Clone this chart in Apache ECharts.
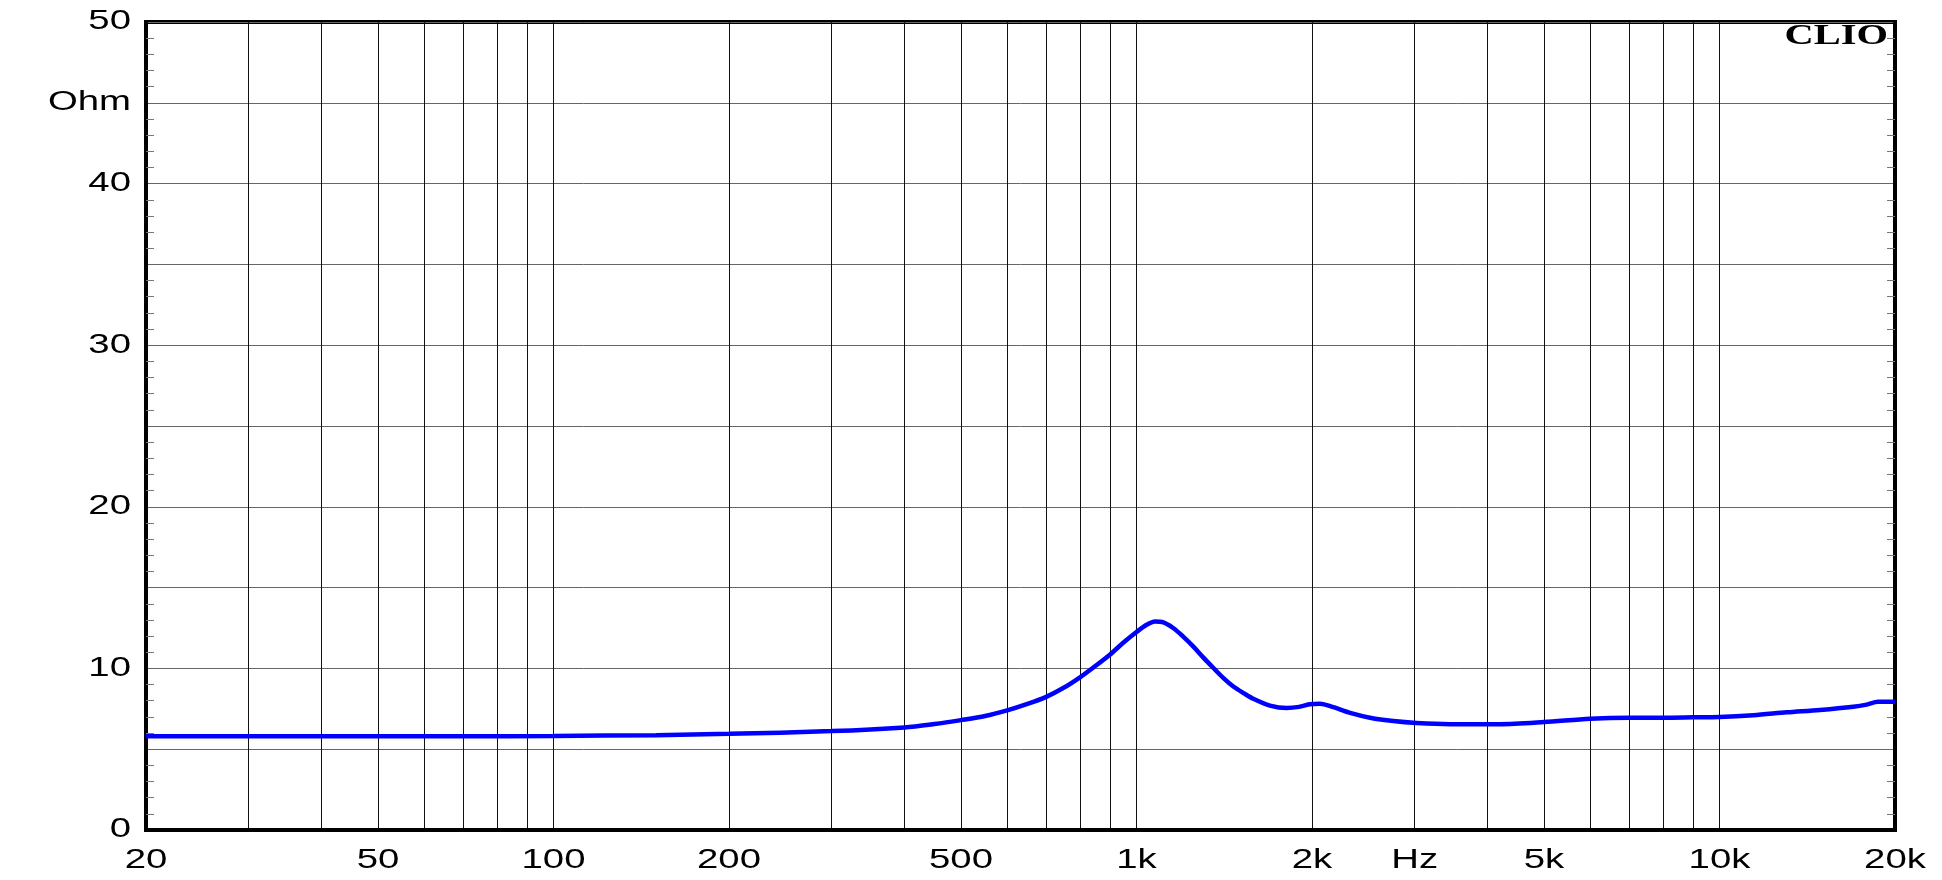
<!DOCTYPE html>
<html>
<head>
<meta charset="utf-8">
<script src="https://cdn.jsdelivr.net/npm/echarts@6/dist/echarts.min.js"></script>
<style>
html,body{margin:0;padding:0;background:#fff;}
#chart{width:1942px;height:880px;}
</style>
</head>
<body>
<div id="chart"></div>
<script>
// Frequency (Hz) and impedance (Ohm)
const freqHz = [20, 30, 50, 70, 100, 150, 200, 300, 400, 450, 500, 550, 600, 650, 700, 750, 800, 850, 900, 950, 1000, 1041, 1076, 1112, 1156, 1200, 1252, 1300, 1354, 1410, 1466, 1530, 1586, 1694, 1810, 1900, 1980, 2064, 2177, 2325, 2515, 2758, 3024, 3449, 4200, 5000, 6000, 7000, 8000, 9000, 10000, 11430, 13040, 14870, 16960, 17880, 18700, 19700, 20000];
const impedanceOhm = [5.8, 5.8, 5.8, 5.8, 5.82, 5.87, 5.95, 6.12, 6.35, 6.56, 6.8, 7.05, 7.4, 7.8, 8.24, 8.8, 9.45, 10.15, 10.85, 11.6, 12.25, 12.7, 12.9, 12.85, 12.5, 12.0, 11.35, 10.7, 10.04, 9.4, 8.88, 8.45, 8.12, 7.7, 7.55, 7.62, 7.78, 7.82, 7.6, 7.25, 6.95, 6.74, 6.62, 6.55, 6.55, 6.68, 6.89, 6.95, 6.95, 6.97, 6.99, 7.1, 7.28, 7.43, 7.63, 7.76, 7.93, 7.93, 7.93];
// Axis ticks / labels
const xGridValues = [20, 30, 40, 50, 60, 70, 80, 90, 100, 200, 300, 400, 500, 600, 700, 800, 900, 1000, 2000, 3000, 4000, 5000, 6000, 7000, 8000, 9000, 10000, 20000];
const xLabelValues = [20, 50, 100, 200, 500, 1000, 2000, 3000, 5000, 10000, 20000];
const xLabelTexts = ['20', '50', '100', '200', '500', '1k', '2k', 'Hz', '5k', '10k', '20k'];
const yLabelValues = [0, 10, 20, 30, 40, 45, 50];
const yLabelTexts = ['0', '10', '20', '30', '40', 'Ohm', '50'];

const chart = echarts.init(document.getElementById('chart'), null, {renderer: 'canvas'});
const LABEL_FONT = '27px "Liberation Sans", Arial, sans-serif';
const STRETCH = 1.42;

const option = {
  animation: false,
  backgroundColor: '#fff',
  grid: {left: 146, right: 47, top: 22, bottom: 50, show: true, borderColor: '#000', borderWidth: 4, backgroundColor: 'transparent', containLabel: false},
  xAxis: {
    type: 'log', logBase: 10, min: 20, max: 20000,
    axisLine: {show: true, lineStyle: {color: '#000', width: 4}},
    axisTick: {show: false, customValues: xGridValues},
    splitLine: {show: true, lineStyle: {color: '#111', width: 1}},
    axisLabel: {show: false}
  },
  yAxis: [{
    type: 'value', min: 0, max: 50, interval: 5, position: 'left',
    axisLine: {show: true, lineStyle: {color: '#000', width: 4}},
    axisTick: {show: false, inside: true, length: 8},
    minorTick: {show: true, splitNumber: 5, length: 8, lineStyle: {color: '#777', width: 1}},
    splitLine: {show: true, lineStyle: {color: '#666', width: 1}},
    axisLabel: {show: false}
  }, {
    type: 'value', min: 0, max: 50, interval: 5, position: 'right',
    axisLine: {show: true, lineStyle: {color: '#000', width: 4}},
    axisTick: {show: false, inside: true, length: 8},
    minorTick: {show: true, splitNumber: 5, length: 8, lineStyle: {color: '#777', width: 1}},
    splitLine: {show: false},
    axisLabel: {show: false}
  }],
  series: [{
    type: 'line', xAxisIndex: 0, yAxisIndex: 0,
    data: freqHz.map(function (f, i) { return [f, impedanceOhm[i]]; }),
    showSymbol: false, smooth: 0.3,
    lineStyle: {color: '#0000ff', width: 4.5},
    itemStyle: {color: '#0000ff'}
  }]
};
chart.setOption(option);

// Stretched axis labels (the reference uses horizontally widened glyphs), placed via the chart's own scales
const graphics = [];
xLabelValues.forEach(function (v, i) {
  const p = chart.convertToPixel({xAxisIndex: 0, yAxisIndex: 0}, [v, 0]);
  graphics.push({
    type: 'text', x: p[0], y: p[1] + 31, scaleX: STRETCH, silent: true,
    style: {text: xLabelTexts[i], font: LABEL_FONT, fill: '#000', align: 'center', verticalAlign: 'middle'}
  });
});
yLabelValues.forEach(function (v, i) {
  const p = chart.convertToPixel({xAxisIndex: 0, yAxisIndex: 0}, [20, v]);
  graphics.push({
    type: 'text', x: p[0] - 15, y: p[1], scaleX: STRETCH, silent: true,
    style: {text: yLabelTexts[i], font: LABEL_FONT, fill: '#000', align: 'right', verticalAlign: 'middle'}
  });
});
graphics.push({
  type: 'text', x: 1888, y: 36, scaleX: 1.35, silent: true,
  style: {text: 'CLIO', font: 'bold 30px "Liberation Serif", "Times New Roman", serif', fill: '#000', align: 'right', verticalAlign: 'middle'}
});
chart.setOption({graphic: graphics});
</script>
</body>
</html>
